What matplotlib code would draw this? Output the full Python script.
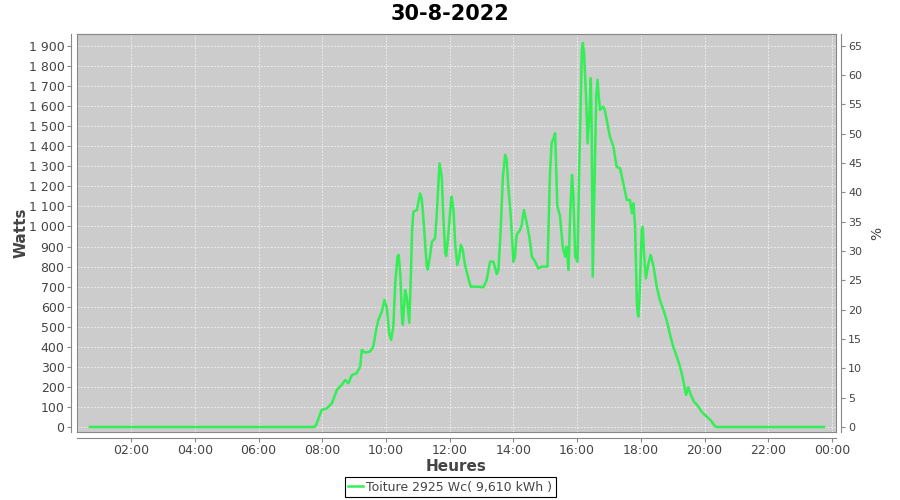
import matplotlib
matplotlib.use("Agg")
import matplotlib.pyplot as plt
from matplotlib.ticker import FuncFormatter, MultipleLocator

# heure decimale / puissance (W)
heures = [0.70, 7.75, 7.80, 7.98, 8.14, 8.30, 8.46, 8.61, 8.72, 8.82, 8.93, 9.08, 9.19, 9.24,
          9.34, 9.50, 9.60, 9.69, 9.76, 9.87, 9.95, 10.03, 10.10, 10.16, 10.23, 10.29, 10.36,
          10.40, 10.45, 10.50, 10.53, 10.60, 10.65, 10.73, 10.78, 10.82, 10.86, 10.97, 11.07,
          11.12, 11.17, 11.23, 11.28, 11.31, 11.38, 11.44, 11.54, 11.59, 11.68, 11.75, 11.80,
          11.86, 11.89, 11.96, 12.03, 12.06, 12.12, 12.17, 12.24, 12.30, 12.35, 12.41, 12.48,
          12.56, 12.66, 12.85, 13.06, 13.16, 13.27, 13.37, 13.48, 13.53, 13.60, 13.67, 13.74,
          13.79, 13.84, 13.92, 14.00, 14.05, 14.10, 14.21, 14.26, 14.33, 14.42, 14.50, 14.58,
          14.68, 14.78, 14.89, 14.99, 15.07, 15.15, 15.20, 15.28, 15.31, 15.38, 15.46, 15.55,
          15.62, 15.67, 15.73, 15.78, 15.84, 15.88, 15.94, 16.01, 16.07, 16.15, 16.18, 16.22,
          16.28, 16.33, 16.38, 16.43, 16.46, 16.49, 16.55, 16.60, 16.64, 16.68, 16.72, 16.82,
          16.87, 16.93, 17.03, 17.14, 17.24, 17.35, 17.45, 17.56, 17.66, 17.72, 17.77, 17.82,
          17.88, 17.92, 17.96, 18.03, 18.06, 18.10, 18.16, 18.24, 18.31, 18.40, 18.50, 18.60,
          18.71, 18.81, 18.92, 19.02, 19.13, 19.23, 19.31, 19.42, 19.49, 19.55, 19.67, 19.77,
          19.91, 20.07, 20.19, 20.33, 20.40, 23.75]
watts = [0, 0, 8, 85, 93, 118, 185, 210, 234, 218, 259, 268, 301, 384,
         371, 376, 400, 484, 534, 575, 633, 592, 467, 434, 500, 717, 850,
         858, 760, 550, 510, 683, 650, 520, 750, 983, 1074, 1082, 1165,
         1140, 1049, 916, 800, 786, 850, 924, 941, 1049, 1315, 1248, 1049,
         866, 853, 966, 1107, 1149, 1082, 916, 808, 850, 908, 883, 808,
         758, 700, 700, 697, 733, 825, 825, 763, 783, 983, 1248, 1357,
         1332, 1198, 1049, 825, 850, 958, 983, 1007, 1082, 1016, 949, 850,
         825, 791, 800, 800, 800, 1273, 1415, 1448, 1465, 1099, 1057, 899,
         850, 899, 783, 1049, 1257, 1165, 850, 825, 1315, 1880, 1915, 1863,
         1648, 1415, 1548, 1739, 1450, 750, 1250, 1648, 1731, 1648, 1581, 1598,
         1581, 1531, 1448, 1398, 1298, 1290, 1215, 1132, 1132, 1066, 1115, 999,
         600, 550, 650, 983, 999, 870, 741, 816, 858, 800, 700, 633,
         584, 534, 459, 400, 351, 301, 251, 160, 198, 168, 126, 110,
         76, 51, 35, 3, 0, 0]
crete = 2925
legende = "Toiture 2925 Wc( 9,610 kWh )"
titre = "30-8-2022"

gris = "#444444"
fig = plt.figure(figsize=(9, 5), dpi=100)
ax = fig.add_axes([0.0856, 0.136, 0.843, 0.796])
ax.set_facecolor("#cccccc")
ax.plot(heures, watts, color="#33ee55", lw=1.8, label=legende)

ax.set_xlim(0.30, 24.12)
ax.set_ylim(-25, 1960)
ax.set_xticks(range(2, 25, 2))
ax.xaxis.set_major_formatter(FuncFormatter(lambda v, p: "%02d:00" % (int(round(v)) % 24)))
ax.yaxis.set_major_locator(MultipleLocator(100))
ax.yaxis.set_major_formatter(FuncFormatter(lambda v, p: "{:,}".format(int(v)).replace(",", " ")))
ax.grid(True, color="#f4f4f4", ls=(0, (2, 2)), lw=0.6)

for s in ax.spines.values():
    s.set_color("#888888")
ax.spines["left"].set_position(("outward", 4))
ax.spines["bottom"].set_position(("outward", 4))
ax.tick_params(colors=gris, labelsize=9, length=3, color="#888888", pad=2)

ax2 = ax.twinx()
ax2.set_ylim(-25 * 100 / crete, 1960 * 100 / crete)
ax2.yaxis.set_major_locator(MultipleLocator(5))
ax2.spines["right"].set_position(("outward", 4))
for s in ax2.spines.values():
    s.set_color("#888888")
ax2.tick_params(colors=gris, labelsize=8, length=3, color="#888888", pad=2)
ax2.set_ylabel("%", color=gris, fontsize=10, labelpad=6)

ax.set_ylabel("Watts", color=gris, fontsize=11, fontweight="bold", labelpad=0)
ax.set_xlabel("Heures", color=gris, fontsize=11, fontweight="bold", labelpad=1)
fig.suptitle(titre, fontsize=15, fontweight="bold", y=0.992, va="top")

leg = fig.legend(loc="center", bbox_to_anchor=(0.5, 1 - 487 / 500), fancybox=False,
                 edgecolor="black", fontsize=9, handlelength=1.2, handletextpad=0.2,
                 borderpad=0.3, framealpha=1)
leg.get_frame().set_linewidth(0.8)
for t in leg.get_texts():
    t.set_color(gris)

fig.savefig("out.png", dpi=100)
